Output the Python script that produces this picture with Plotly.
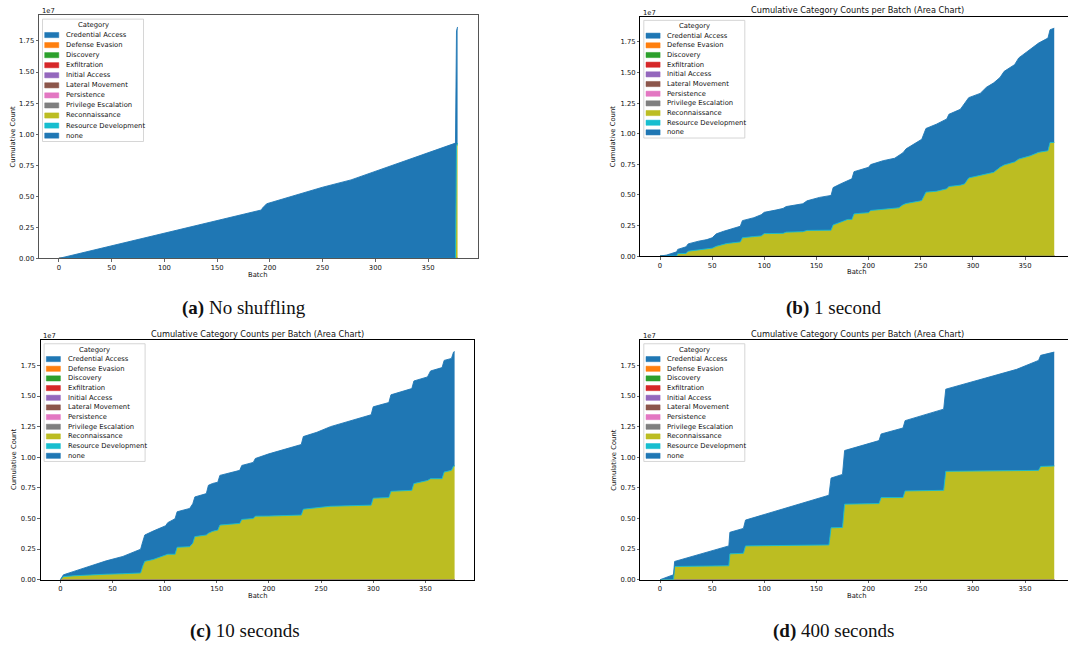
import plotly.graph_objects as go

W, H = 1068, 650

# ---------------- data ----------------
categories = ["Credential Access", "Defense Evasion", "Discovery", "Exfiltration",
              "Initial Access", "Lateral Movement", "Persistence", "Privilege Escalation",
              "Reconnaissance", "Resource Development", "none"]
colors = ["#1f77b4", "#ff7f0e", "#2ca02c", "#d62728", "#9467bd", "#8c564b",
          "#e377c2", "#7f7f7f", "#bcbd22", "#17becf", "#1f77b4"]

x_ticks = [0, 50, 100, 150, 200, 250, 300, 350]
y_ticks = [0.0, 0.25, 0.5, 0.75, 1.0, 1.25, 1.5, 1.75]
y_tick_labels = ["0.00", "0.25", "0.50", "0.75", "1.00", "1.25", "1.50", "1.75"]

# cumulative counts, in units of 1e7 (as on the axis)
# (a) No shuffling
batch_a = [0, 192, 193, 195, 197, 250, 277, 376, 377, 378]
recon_a = [0, 0, 0, 0, 0, 0, 0, 0, 0.900, 0.929]
none_a = [0, 0.390, 0.405, 0.425, 0.440, 0.573, 0.632, 0.928, 0.932, 0.934]

# (b) 1 second
batch_b = [0, 6, 16, 17, 25, 27, 37, 45, 50, 54,
           61, 64, 77, 79, 90, 97, 100, 112, 118, 121,
           137, 141, 153, 164, 166, 173, 180, 184, 186, 192,
           200, 202, 214, 225, 229, 233, 236, 249, 251, 255,
           265, 275, 277, 288, 292, 296, 307, 313, 320, 326,
           330, 340, 344, 355, 363, 372, 374, 378]
recon_b = [0, 0, 0, 0.020, 0.022, 0.040, 0.050, 0.062, 0.065, 0.080,
           0.100, 0.103, 0.116, 0.150, 0.160, 0.165, 0.184, 0.184, 0.186, 0.196,
           0.200, 0.210, 0.211, 0.212, 0.255, 0.275, 0.300, 0.300, 0.345, 0.350,
           0.355, 0.373, 0.382, 0.390, 0.395, 0.420, 0.430, 0.450, 0.455, 0.523,
           0.530, 0.550, 0.569, 0.580, 0.590, 0.639, 0.658, 0.670, 0.685, 0.726,
           0.745, 0.770, 0.793, 0.820, 0.848, 0.861, 0.929, 0.929]
none_b = [0, 0.008, 0.035, 0.035, 0.054, 0.060, 0.072, 0.073, 0.085, 0.102,
          0.103, 0.108, 0.128, 0.140, 0.154, 0.173, 0.174, 0.194, 0.204, 0.209,
          0.228, 0.242, 0.269, 0.284, 0.305, 0.315, 0.318, 0.332, 0.345, 0.355,
          0.371, 0.375, 0.398, 0.410, 0.425, 0.425, 0.447, 0.500, 0.500, 0.520,
          0.548, 0.571, 0.590, 0.620, 0.656, 0.656, 0.672, 0.710, 0.731, 0.734,
          0.765, 0.795, 0.827, 0.867, 0.893, 0.921, 0.921, 0.934]

# (c) 10 seconds
batch_c = [0, 3, 13, 28, 44, 60, 77, 79, 81, 89,
           95, 101, 103, 110, 112, 124, 127, 129, 140, 142,
           146, 151, 153, 172, 174, 185, 187, 200, 231, 233,
           246, 259, 298, 300, 315, 317, 337, 339, 352, 355,
           366, 368, 375, 377, 378]
recon_c = [0, 0.025, 0.032, 0.040, 0.045, 0.049, 0.055, 0.110, 0.150, 0.165,
           0.185, 0.205, 0.208, 0.208, 0.265, 0.270, 0.298, 0.352, 0.365, 0.380,
           0.395, 0.405, 0.446, 0.460, 0.492, 0.500, 0.519, 0.520, 0.528, 0.576,
           0.590, 0.600, 0.609, 0.666, 0.671, 0.722, 0.730, 0.785, 0.810, 0.825,
           0.825, 0.879, 0.893, 0.929, 0.929]
none_c = [0, 0.015, 0.036, 0.068, 0.109, 0.141, 0.194, 0.200, 0.215, 0.232,
          0.235, 0.236, 0.258, 0.290, 0.290, 0.312, 0.322, 0.324, 0.338, 0.391,
          0.391, 0.391, 0.406, 0.433, 0.441, 0.458, 0.471, 0.508, 0.576, 0.593,
          0.614, 0.650, 0.738, 0.746, 0.776, 0.788, 0.831, 0.838, 0.846, 0.880,
          0.907, 0.912, 0.914, 0.930, 0.934]

# (d) 400 seconds
batch_d = [0, 13, 14, 66, 67, 80, 82, 162, 164, 175,
           177, 210, 212, 233, 235, 272, 274, 342, 363, 365, 378]
recon_d = [0, 0, 0.108, 0.114, 0.211, 0.216, 0.276, 0.284, 0.424, 0.427,
           0.617, 0.622, 0.671, 0.671, 0.725, 0.730, 0.885, 0.888, 0.893, 0.925, 0.929]
none_d = [0, 0.041, 0.041, 0.162, 0.176, 0.203, 0.211, 0.406, 0.406, 0.433,
          0.438, 0.514, 0.519, 0.568, 0.574, 0.663, 0.671, 0.830, 0.898, 0.907, 0.930]

# ---------------- layout geometry (pixels) ----------------
panels = [
    dict(batch=batch_a, recon=recon_a, none=none_a, L=39.0, R=477.5, T=15.5, B=260.0,
         xr=[-18.9, 396.9], mirror=True, spine="#555555", title=False, cx=258.0,
         tag="(a)", cap="No shuffling", cap_x=244, cap_y=310, sy=1.04),
    dict(batch=batch_b, recon=recon_b, none=none_b, L=640.3, R=1068.0, T=16.9, B=257.7,
         xr=[-18.9, 391.2], mirror=False, spine="#000000", title=True, cx=857.0,
         tag="(b)", cap="1 second", cap_x=833, cap_y=310, sy=1.0),
    dict(batch=batch_c, recon=recon_c, none=none_c, L=40.6, R=474.3, T=342.3, B=583.3,
         xr=[-18.9, 396.9], mirror=True, spine="#000000", title=True, cx=257.5,
         tag="(c)", cap="10 seconds", cap_x=245, cap_y=635, sy=1.0),
    dict(batch=batch_d, recon=recon_d, none=none_d, L=640.3, R=1068.0, T=342.3, B=583.3,
         xr=[-18.9, 391.2], mirror=False, spine="#000000", title=True, cx=857.0,
         tag="(d)", cap="400 seconds", cap_x=833, cap_y=635, sy=1.0),
]

FONT = "DejaVu Sans"
FS = 6.8


def px(x):
    return x / W


def py(y):
    return 1 - y / H


fig = go.Figure()
shapes = []
annotations = []
layout_axes = {}

for k, p in enumerate(panels):
    n = k + 1
    xa = "x" if n == 1 else f"x{n}"
    ya = "y" if n == 1 else f"y{n}"
    zeros = [0.0 for _ in p["batch"]]
    for cat, col in zip(categories, colors):
        if cat == "Reconnaissance":
            yv = p["recon"]
        elif cat == "none":
            yv = p["none"]
        else:
            yv = zeros
        fig.add_trace(go.Scatter(
            x=p["batch"], y=yv, name=cat, mode="lines",
            stackgroup=f"s{n}", fillcolor=col,
            line=dict(color=col, width=0.9),
            showlegend=False, hoverinfo="skip",
            xaxis=xa, yaxis=ya))

    xkey = "xaxis" if n == 1 else f"xaxis{n}"
    ykey = "yaxis" if n == 1 else f"yaxis{n}"
    layout_axes[xkey] = dict(
        domain=[px(p["L"]), min(1.0, px(p["R"]))], range=p["xr"], anchor=ya,
        tickvals=x_ticks, ticks="outside", ticklen=2.4, tickwidth=0.6, tickcolor="#000",
        tickfont=dict(family=FONT, size=FS, color="#111"),
        showline=True, linecolor=p["spine"], linewidth=1, mirror=True,
        showgrid=False, zeroline=False, fixedrange=True)
    layout_axes[ykey] = dict(
        domain=[py(p["B"]), py(p["T"])], range=[0, 1.956], anchor=xa,
        tickvals=y_ticks, ticktext=y_tick_labels, ticks="outside", ticklen=2.4,
        tickwidth=0.6, tickcolor="#000",
        tickfont=dict(family=FONT, size=FS, color="#111"),
        showline=True, linecolor=p["spine"], linewidth=1, mirror=p["mirror"],
        showgrid=False, zeroline=False, fixedrange=True)

    L, T, B = p["L"], p["T"], p["B"]
    # offset text, axis labels, title
    annotations.append(dict(text="1e7", x=px(L + 0.5), y=py(T - 4.3), xref="paper", yref="paper",
                            xanchor="left", yanchor="middle", showarrow=False,
                            font=dict(family=FONT, size=FS, color="#111")))
    annotations.append(dict(text="Cumulative Count", x=px(L - 26.5), y=py((T + B) / 2),
                            xref="paper", yref="paper", textangle=-90,
                            xanchor="center", yanchor="middle", showarrow=False,
                            font=dict(family=FONT, size=FS, color="#111")))
    annotations.append(dict(text="Batch", x=px(p["cx"]), y=py(B + 16.3),
                            xref="paper", yref="paper", xanchor="center", yanchor="middle",
                            showarrow=False, font=dict(family=FONT, size=FS, color="#111")))
    if p["title"]:
        annotations.append(dict(text="Cumulative Category Counts per Batch (Area Chart)",
                                x=px(p["cx"]), y=py(T - 6.4), xref="paper", yref="paper",
                                xanchor="center", yanchor="middle", showarrow=False,
                                font=dict(family=FONT, size=8.2, color="#111")))
    # caption
    annotations.append(dict(text=f"<b>{p['tag']}</b> {p['cap']}", x=px(p["cap_x"]),
                            y=py(p["cap_y"]), xref="paper", yref="paper",
                            xanchor="center", yanchor="middle", showarrow=False,
                            font=dict(family="Liberation Serif", size=19, color="#111")))

    # legend (drawn as shapes + text)
    sy = p["sy"]
    shapes.append(dict(type="rect", xref="paper", yref="paper", layer="above",
                       x0=px(L + 3.5), x1=px(L + 104.5), y0=py(T + 3.6 * sy), y1=py(T + 122 * sy),
                       fillcolor="rgba(255,255,255,0.8)", line=dict(color="#cccccc", width=0.8)))
    annotations.append(dict(text="Category", x=px(L + 54), y=py(T + 9.6 * sy),
                            xref="paper", yref="paper", xanchor="center", yanchor="middle",
                            showarrow=False, font=dict(family=FONT, size=FS, color="#111")))
    for i, (cat, col) in enumerate(zip(categories, colors)):
        yc = T + (19.0 + 9.73 * i) * sy
        shapes.append(dict(type="rect", xref="paper", yref="paper", layer="above",
                           x0=px(L + 5.7), x1=px(L + 19.8), y0=py(yc - 2.6), y1=py(yc + 2.6),
                           fillcolor=col, line=dict(color=col, width=0.5)))
        annotations.append(dict(text=cat, x=px(L + 25.0), y=py(yc), xref="paper", yref="paper",
                                xanchor="left", yanchor="middle", showarrow=False,
                                font=dict(family=FONT, size=FS, color="#111")))

fig.update_layout(
    width=W, height=H, autosize=False,
    margin=dict(l=0, r=0, t=0, b=0),
    paper_bgcolor="white", plot_bgcolor="white",
    showlegend=False,
    shapes=shapes, annotations=annotations,
    **layout_axes)

fig.write_html("out.html",
               config={"displayModeBar": False, "staticPlot": True},
               post_script="document.body.style.margin='0px';"
                           "document.body.style.overflow='hidden';")
